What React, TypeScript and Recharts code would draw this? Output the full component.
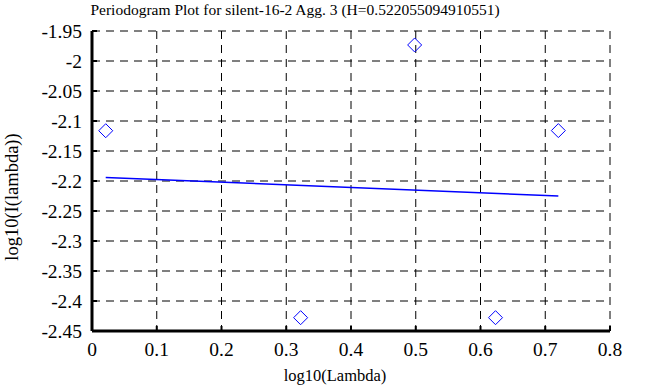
import React from 'react';
import { ScatterChart, Scatter, XAxis, YAxis, CartesianGrid } from 'recharts';

const xTicks = [0, 0.1, 0.2, 0.3, 0.4, 0.5, 0.6, 0.7, 0.8];
const yTicks = [-2.45, -2.4, -2.35, -2.3, -2.25, -2.2, -2.15, -2.1, -2.05, -2, -1.95];
const pointX = [0.0212, 0.3222, 0.4983, 0.6232, 0.7202];
const pointY = [-2.1162, -2.4278, -1.9733, -2.4278, -2.116];
const fitX = [0.0212, 0.7202];
const fitY = [-2.194, -2.225];

const points = pointX.map((x, i) => ({ x, y: pointY[i] }));
const fit = fitX.map((x, i) => ({ x, y: fitY[i] }));

const FONT = "Liberation Serif";

const fmt = (v: number) => String(parseFloat(Number(v).toFixed(2)));

const renderXTick = (props: any) => {
  const { x, y, payload } = props;
  return (
    <text key={`xt-${payload.value}`} x={x} y={y} dy={13} textAnchor="middle" fill="#000" fontSize={19.5} fontFamily={FONT} className="my-tick">
      {fmt(payload.value)}
    </text>
  );
};

const renderYTick = (props: any) => {
  const { x, y, payload } = props;
  return (
    <text key={`yt-${payload.value}`} x={x} y={y} dy={7} textAnchor="end" fill="#000" fontSize={19.5} fontFamily={FONT} className="my-tick">
      {fmt(payload.value)}
    </text>
  );
};

const renderNoTick = () => <g />;

const Diamond = (props: any) => {
  const { cx, cy } = props;
  if (cx == null || cy == null) return null;
  const r = 7;
  return (
    <polygon
      points={`${cx},${cy - r} ${cx + r},${cy} ${cx},${cy + r} ${cx - r},${cy}`}
      fill="none"
      stroke="#0000ff"
      strokeWidth={1}
    />
  );
};

const NoShape = () => null;

export default function App() {
  return (
    <div style={{ position: 'absolute', left: 0, top: 0, width: 663, height: 387, background: '#fff', fontFamily: FONT }}>
      <style>{`.recharts-cartesian-axis-tick text, .my-tick { font-family: "Liberation Serif" !important; font-size: 19.5px !important; }`}</style>
      <ScatterChart width={663} height={387} margin={{ top: 31, right: 53, bottom: 0, left: 0 }}>
        <CartesianGrid stroke="#000" strokeDasharray="8 6" strokeWidth={1} />
        <XAxis
          xAxisId={0}
          type="number"
          dataKey="x"
          domain={[0, 0.8]}
          ticks={xTicks}
          orientation="bottom"
          height={56}
          tickSize={-5}
          tickMargin={17}
          tickLine={{ stroke: '#000', strokeWidth: 2 }}
          axisLine={{ stroke: '#000', strokeWidth: 3 }}
          tick={renderXTick}
          allowDataOverflow
        />
        <XAxis
          xAxisId="top"
          type="number"
          dataKey="x"
          domain={[0, 0.8]}
          ticks={xTicks}
          orientation="top"
          height={0}
          tickSize={-5}
          tickLine={{ stroke: '#000', strokeWidth: 2 }}
          axisLine={{ stroke: '#000', strokeWidth: 3 }}
          tick={renderNoTick}
          allowDataOverflow
        />
        <YAxis
          yAxisId={0}
          type="number"
          dataKey="y"
          domain={[-2.45, -1.95]}
          ticks={yTicks}
          orientation="left"
          width={92}
          tickSize={-5}
          tickMargin={15}
          tickLine={{ stroke: '#000', strokeWidth: 2 }}
          axisLine={{ stroke: '#000', strokeWidth: 3 }}
          tick={renderYTick}
          allowDataOverflow
        />
        <YAxis
          yAxisId="right"
          type="number"
          dataKey="y"
          domain={[-2.45, -1.95]}
          ticks={yTicks}
          orientation="right"
          width={0}
          tickSize={-5}
          tickLine={{ stroke: '#000', strokeWidth: 2 }}
          axisLine={{ stroke: '#000', strokeWidth: 3 }}
          tick={renderNoTick}
          allowDataOverflow
        />
        <Scatter data={points} xAxisId={0} yAxisId={0} shape={<Diamond />} isAnimationActive={false} />
        <Scatter
          data={fit}
          xAxisId={0}
          yAxisId={0}
          line={{ stroke: '#0000ff', strokeWidth: 1.5 }}
          shape={<NoShape />}
          isAnimationActive={false}
        />
      </ScatterChart>
      <div style={{ position: 'absolute', left: 0, width: 590, top: 0, textAlign: 'center', fontSize: 15.5, lineHeight: '20px' }}>
        Periodogram Plot for silent-16-2 Agg. 3 (H=0.522055094910551)
      </div>
      <div style={{ position: 'absolute', left: 235, width: 200, top: 366, textAlign: 'center', fontSize: 16.5, lineHeight: '20px' }}>
        log10(Lambda)
      </div>
      <div
        style={{
          position: 'absolute',
          left: 12 - 100,
          top: 197 - 10,
          width: 200,
          textAlign: 'center',
          fontSize: 18.5,
          lineHeight: '20px',
          transform: 'rotate(-90deg)',
        }}
      >
        log10(I(lambda))
      </div>
    </div>
  );
}
